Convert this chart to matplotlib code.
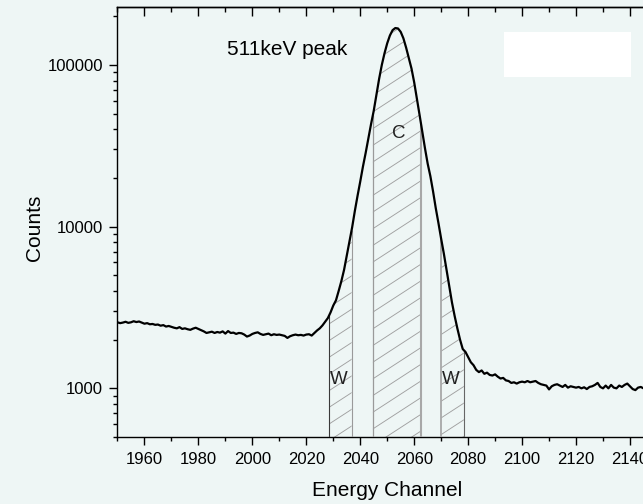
import matplotlib.pyplot as plt
import numpy as np
from matplotlib.patches import Rectangle
from matplotlib.ticker import FuncFormatter, LogLocator, MultipleLocator, NullFormatter

plt.rcParams["font.family"] = ["Liberation Sans", "DejaVu Sans"]

BG = "#eef6f5"

# spectrum around the 511 keV annihilation peak, one value per channel from 1950
channel_start = 1950
counts = [
    2560, 2530, 2550, 2580, 2540, 2560, 2600, 2570, 2590, 2550,
    2510, 2530, 2490, 2500, 2470, 2480, 2440, 2460, 2410, 2430,
    2400, 2370, 2350, 2390, 2330, 2350, 2320, 2300, 2340, 2370,
    2330, 2290, 2250, 2200, 2220, 2240, 2200, 2230, 2210, 2250,
    2180, 2260, 2200, 2210, 2170, 2200, 2190, 2150, 2090, 2120,
    2170, 2200, 2220, 2170, 2140, 2160, 2180, 2130, 2160, 2140,
    2150, 2130, 2110, 2050, 2100, 2130, 2150, 2130, 2140, 2120,
    2150, 2160, 2120, 2200, 2280, 2350, 2450, 2580, 2720, 2950,
    3250, 3500, 4000, 4600, 5400, 6600, 8000, 9900, 12500, 15500,
    19000, 23500, 28500, 35000, 43000, 52000, 65000, 82000, 100000, 118000,
    136000, 152000, 164000, 169000, 168000, 160000, 146000, 128000, 110000, 95000,
    78000, 62000, 49000, 38500, 30500, 24500, 20500, 16500, 13000, 10500,
    8400, 6800, 5400, 4300, 3400, 2800, 2350, 2000, 1750, 1680,
    1560, 1450, 1390, 1300, 1260, 1290, 1230, 1250, 1210, 1200,
    1220, 1180, 1150, 1160, 1120, 1110, 1080, 1090, 1070, 1090,
    1100, 1090, 1110, 1090, 1100, 1110, 1080, 1060, 1050, 1040,
    985, 1030, 1050, 1060, 1040, 1020, 1050, 1010, 1030, 1020,
    1010, 1020, 1000, 1015, 990, 1020, 1030, 1050, 1080, 1020,
    1000, 1040, 1000, 1050, 1010, 1000, 1040, 1020, 1050, 1070,
    1030, 990, 975, 1010, 1020, 1000, 1010, 990, 1020, 1000, 1010,
]

# integration windows: wings (W) and centre (C)
window_lo = [2028.6, 2044.7, 2070.0]
window_hi = [2036.8, 2062.6, 2078.4]
window_names = ["W", "C", "W"]
name_x = [2032.1, 2054.4, 2073.4]
name_y = [1140, 37850, 1140]

xmin, xmax = 1950, 2150
ymin, ymax = 500, 2.28e5

channels = np.arange(channel_start, channel_start + len(counts))
counts = np.array(counts, dtype=float)

fig = plt.figure(figsize=(6.43, 5.04), dpi=100, facecolor=BG)
ax = fig.add_axes([0.1827, 0.1329, 0.839, 0.8532])
ax.set_facecolor(BG)
ax.set_yscale("log")
ax.set_xlim(xmin, xmax)
ax.set_ylim(ymin, ymax)

# diagonal hatching, drawn as lines in axes space and clipped to each window
slope = 0.8155
step = 0.0388
offsets = np.arange(-1.0, 1.05, step) + 0.012
edge_cols = [("#3a3a3a", "#9a9a9a"), ("#9a9a9a", "#a8a8a8"), ("#a8a8a8", "#666666")]
edge_lw = [(0.8, 0.8), (0.9, 1.5), (1.3, 0.8)]
for i, (lo, hi) in enumerate(zip(window_lo, window_hi)):
    inside = (channels > lo) & (channels < hi)
    xb = np.concatenate([[lo], channels[inside], [hi]])
    yb = np.interp(xb, channels, counts)
    poly = ax.fill_between(xb, yb, ymin, facecolor="none", edgecolor="none")
    clip = poly.get_paths()[0]
    for off in offsets:
        ln, = ax.plot([0, 1], [off, off + slope], transform=ax.transAxes,
                      color="#a0a0a0", lw=0.65, zorder=2)
        ln.set_clip_path(clip, ax.transData)
    ax.vlines(lo, ymin, yb[0], color=edge_cols[i][0], lw=edge_lw[i][0], zorder=3)
    ax.vlines(hi, ymin, yb[-1], color=edge_cols[i][1], lw=edge_lw[i][1], zorder=3)
    ax.text(name_x[i], name_y[i], window_names[i], fontsize=13.5, color="#222222",
            ha="center", va="center", zorder=4)

ax.plot(channels, counts, color="black", lw=1.6, zorder=5)

ax.text(1990.7, 124000, "511keV peak", fontsize=15, ha="left", va="center", zorder=6)

# empty legend frame
ax.add_patch(Rectangle((0.7164, 0.8372), 0.2354, 0.1047, transform=ax.transAxes,
                       facecolor="white", edgecolor="none", zorder=1))

# axes, ticks
for sp in ax.spines.values():
    sp.set_linewidth(1.0)
ax.xaxis.set_major_locator(MultipleLocator(20))
ax.xaxis.set_minor_locator(MultipleLocator(10))
ax.tick_params(axis="x", which="major", direction="out", length=5.5, width=1.0,
               labelsize=12, pad=5, top=False)
ax.tick_params(axis="x", which="minor", direction="out", length=3, width=1.0, top=False)

top = ax.secondary_xaxis("top")
top.xaxis.set_major_locator(MultipleLocator(20))
top.xaxis.set_minor_locator(MultipleLocator(10))
top.tick_params(which="major", direction="in", length=6.5, width=1.0, labeltop=False)
top.tick_params(which="minor", direction="in", length=3.5, width=1.0)
top.spines["top"].set_linewidth(1.0)

ax.yaxis.set_major_locator(LogLocator(base=10))
ax.yaxis.set_minor_locator(LogLocator(base=10, subs=np.arange(2, 10)))
ax.yaxis.set_major_formatter(FuncFormatter(lambda v, p: f"{v:.0f}"))
ax.yaxis.set_minor_formatter(NullFormatter())
ax.tick_params(axis="y", which="major", direction="out", length=5.5, width=1.0,
               labelsize=12, pad=5, right=False)
ax.tick_params(axis="y", which="minor", direction="out", length=3, width=1.0, right=False)

ax.set_xlabel("Energy Channel", fontsize=15)
ax.set_ylabel("Counts", fontsize=15)
ax.xaxis.set_label_coords(0.5, -0.102)
ax.yaxis.set_label_coords(-0.137, 0.486)

fig.savefig("out.png", dpi=100, facecolor=BG)
